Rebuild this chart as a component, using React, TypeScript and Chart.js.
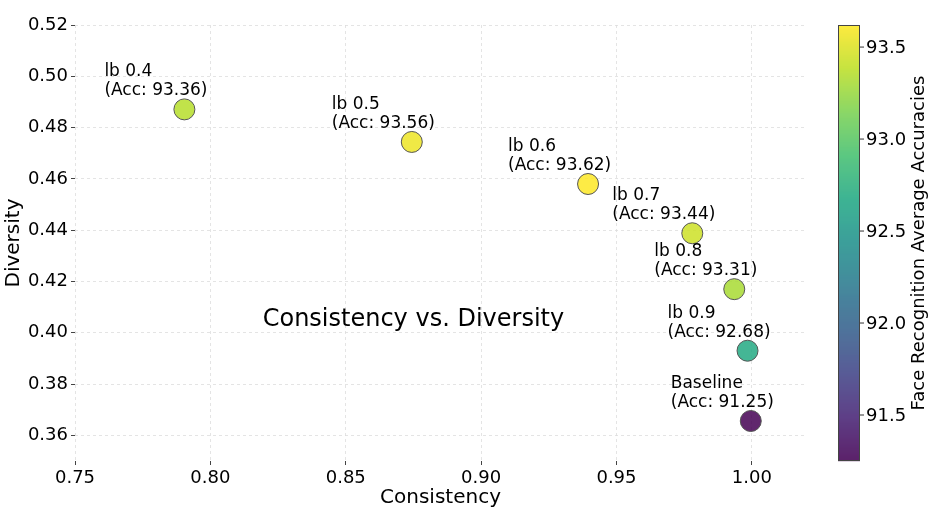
import React, { useEffect, useRef } from "react";
import { Chart, registerables } from "chart.js";

Chart.register(...registerables);

const pointLabels = ["lb 0.4", "lb 0.5", "lb 0.6", "lb 0.7", "lb 0.8", "lb 0.9", "Baseline"];
const consistency = [0.7904, 0.8744, 0.9395, 0.978, 0.9935, 0.9984, 0.9996];
const diversity = [0.4871, 0.4744, 0.458, 0.4388, 0.417, 0.393, 0.3656];
const accuracies = [93.36, 93.56, 93.62, 93.44, 93.31, 92.68, 91.25];
const xTicks = [0.75, 0.8, 0.85, 0.9, 0.95, 1.0];
const yTicks = [0.36, 0.38, 0.4, 0.42, 0.44, 0.46, 0.48, 0.5, 0.52];
const cbarTicks = [91.5, 92.0, 92.5, 93.0, 93.5];

const FONT = "DejaVu Sans";
const ALPHA = 0.85;
const VIRIDIS = [
  [68, 1, 84], [72, 36, 117], [65, 68, 135], [53, 95, 141], [42, 120, 142],
  [33, 145, 140], [34, 168, 132], [68, 191, 112], [122, 209, 81], [189, 223, 38], [253, 231, 37],
];

function viridis(t: number, a: number) {
  const tt = Math.max(0, Math.min(1, t)) * (VIRIDIS.length - 1);
  const i = Math.min(Math.floor(tt), VIRIDIS.length - 2);
  const f = tt - i;
  const c = VIRIDIS[i].map((v, k) => Math.round(v + (VIRIDIS[i + 1][k] - v) * f));
  return `rgba(${c[0]},${c[1]},${c[2]},${a})`;
}

const vmin = Math.min(...accuracies);
const vmax = Math.max(...accuracies);
const norm = (v: number) => (v - vmin) / (vmax - vmin);

const overlay = {
  id: "overlay",
  afterDatasetsDraw(chart: any) {
    const { ctx, chartArea, scales } = chart;
    const xs = scales.x;
    const ys = scales.y;
    ctx.save();
    // point annotations
    ctx.fillStyle = "#000";
    ctx.font = `17px "${FONT}"`;
    ctx.textAlign = "left";
    ctx.textBaseline = "alphabetic";
    pointLabels.forEach((lab, i) => {
      const px = xs.getPixelForValue(consistency[i]);
      const py = ys.getPixelForValue(diversity[i]);
      ctx.fillText(lab, px - 80, py - 33);
      ctx.fillText(`(Acc: ${accuracies[i].toFixed(2)})`, px - 80, py - 14);
    });
    // in-plot title
    ctx.font = `24px "${FONT}"`;
    ctx.textAlign = "center";
    ctx.textBaseline = "middle";
    ctx.fillText("Consistency vs. Diversity", xs.getPixelForValue(0.875), ys.getPixelForValue(0.405));

    // axis titles
    ctx.font = `20px "${FONT}"`;
    ctx.textBaseline = "alphabetic";
    ctx.fillText("Consistency", (chartArea.left + chartArea.right) / 2, 503);
    ctx.save();
    ctx.translate(19, (chartArea.top + chartArea.bottom) / 2);
    ctx.rotate(-Math.PI / 2);
    ctx.fillText("Diversity", 0, 0);
    ctx.restore();

    // colorbar
    const cx0 = 838, cx1 = 860;
    const top = chartArea.top, bot = chartArea.bottom;
    const h = bot - top;
    for (let yy = 0; yy < h; yy++) {
      ctx.fillStyle = viridis(1 - (yy + 0.5) / h, ALPHA);
      ctx.fillRect(cx0, top + yy, cx1 - cx0, 1.2);
    }
    ctx.strokeStyle = "#444";
    ctx.lineWidth = 1;
    ctx.strokeRect(cx0 + 0.5, top + 0.5, cx1 - cx0 - 1, h - 1);
    ctx.font = `18px "${FONT}"`;
    ctx.textAlign = "left";
    ctx.textBaseline = "middle";
    ctx.fillStyle = "#000";
    cbarTicks.forEach((v) => {
      const y = bot - norm(v) * h;
      ctx.beginPath();
      ctx.moveTo(cx1, y);
      ctx.lineTo(cx1 + 4, y);
      ctx.strokeStyle = "#333";
      ctx.stroke();
      ctx.fillText(v.toFixed(1), cx1 + 6, y + 1);
    });
    ctx.save();
    ctx.translate(924, (top + bot) / 2);
    ctx.rotate(-Math.PI / 2);
    ctx.textAlign = "center";
    ctx.textBaseline = "alphabetic";
    ctx.fillText("Face Recognition Average Accuracies", 0, 0);
    ctx.restore();
    ctx.restore();
  },
};

export default function App() {
  const ref = useRef<HTMLCanvasElement | null>(null);
  useEffect(() => {
    document.body.style.margin = "0";
    const canvas = ref.current;
    if (!canvas) return;
    const tickFont = { family: FONT, size: 18 };
    const chart = new Chart(canvas, {
      type: "scatter",
      data: {
        datasets: [
          {
            data: consistency.map((x, i) => ({ x, y: diversity[i] })),
            backgroundColor: accuracies.map((a) => viridis(norm(a), ALPHA)),
            borderColor: "#555",
            borderWidth: 1,
            pointRadius: 10.5,
            pointHoverRadius: 10.5,
          },
        ],
      },
      options: {
        animation: false,
        responsive: false,
        events: [],
        layout: { padding: { left: 0, top: 25, right: 140, bottom: 0 } },
        plugins: { legend: { display: false }, tooltip: { enabled: false }, title: { display: false } },
        scales: {
          x: {
            type: "linear",
            min: 0.75,
            max: 1.02,
            afterBuildTicks: (s: any) => {
              s.ticks = xTicks.map((v) => ({ value: v }));
            },
            afterFit: (s: any) => {
              s.height = 52;
            },
            ticks: {
              font: tickFont,
              color: "#000",
              padding: 3,
              maxRotation: 0,
              autoSkip: false,
              callback: (v: any) => Number(v).toFixed(2),
            },
            grid: { color: "#dddddd", lineWidth: 0.8, tickColor: "#444", tickLength: 4, tickWidth: 1 },
            border: { display: false, dash: [3, 3] },
          },
          y: {
            type: "linear",
            min: 0.35,
            max: 0.52,
            afterBuildTicks: (s: any) => {
              s.ticks = yTicks.map((v) => ({ value: v }));
            },
            afterFit: (s: any) => {
              s.width = 75;
            },
            ticks: {
              font: tickFont,
              color: "#000",
              padding: 3,
              autoSkip: false,
              callback: (v: any) => Number(v).toFixed(2),
            },
            grid: { color: "#dddddd", lineWidth: 0.8, tickColor: "#444", tickLength: 4, tickWidth: 1 },
            border: { display: false, dash: [3, 3] },
          },
        },
      },
      plugins: [overlay],
    } as any);
    return () => chart.destroy();
  }, []);
  return (
    <div style={{ width: 946, height: 513, background: "#fff" }}>
      <canvas ref={ref} width={946} height={513} style={{ width: 946, height: 513, display: "block" }} />
    </div>
  );
}
